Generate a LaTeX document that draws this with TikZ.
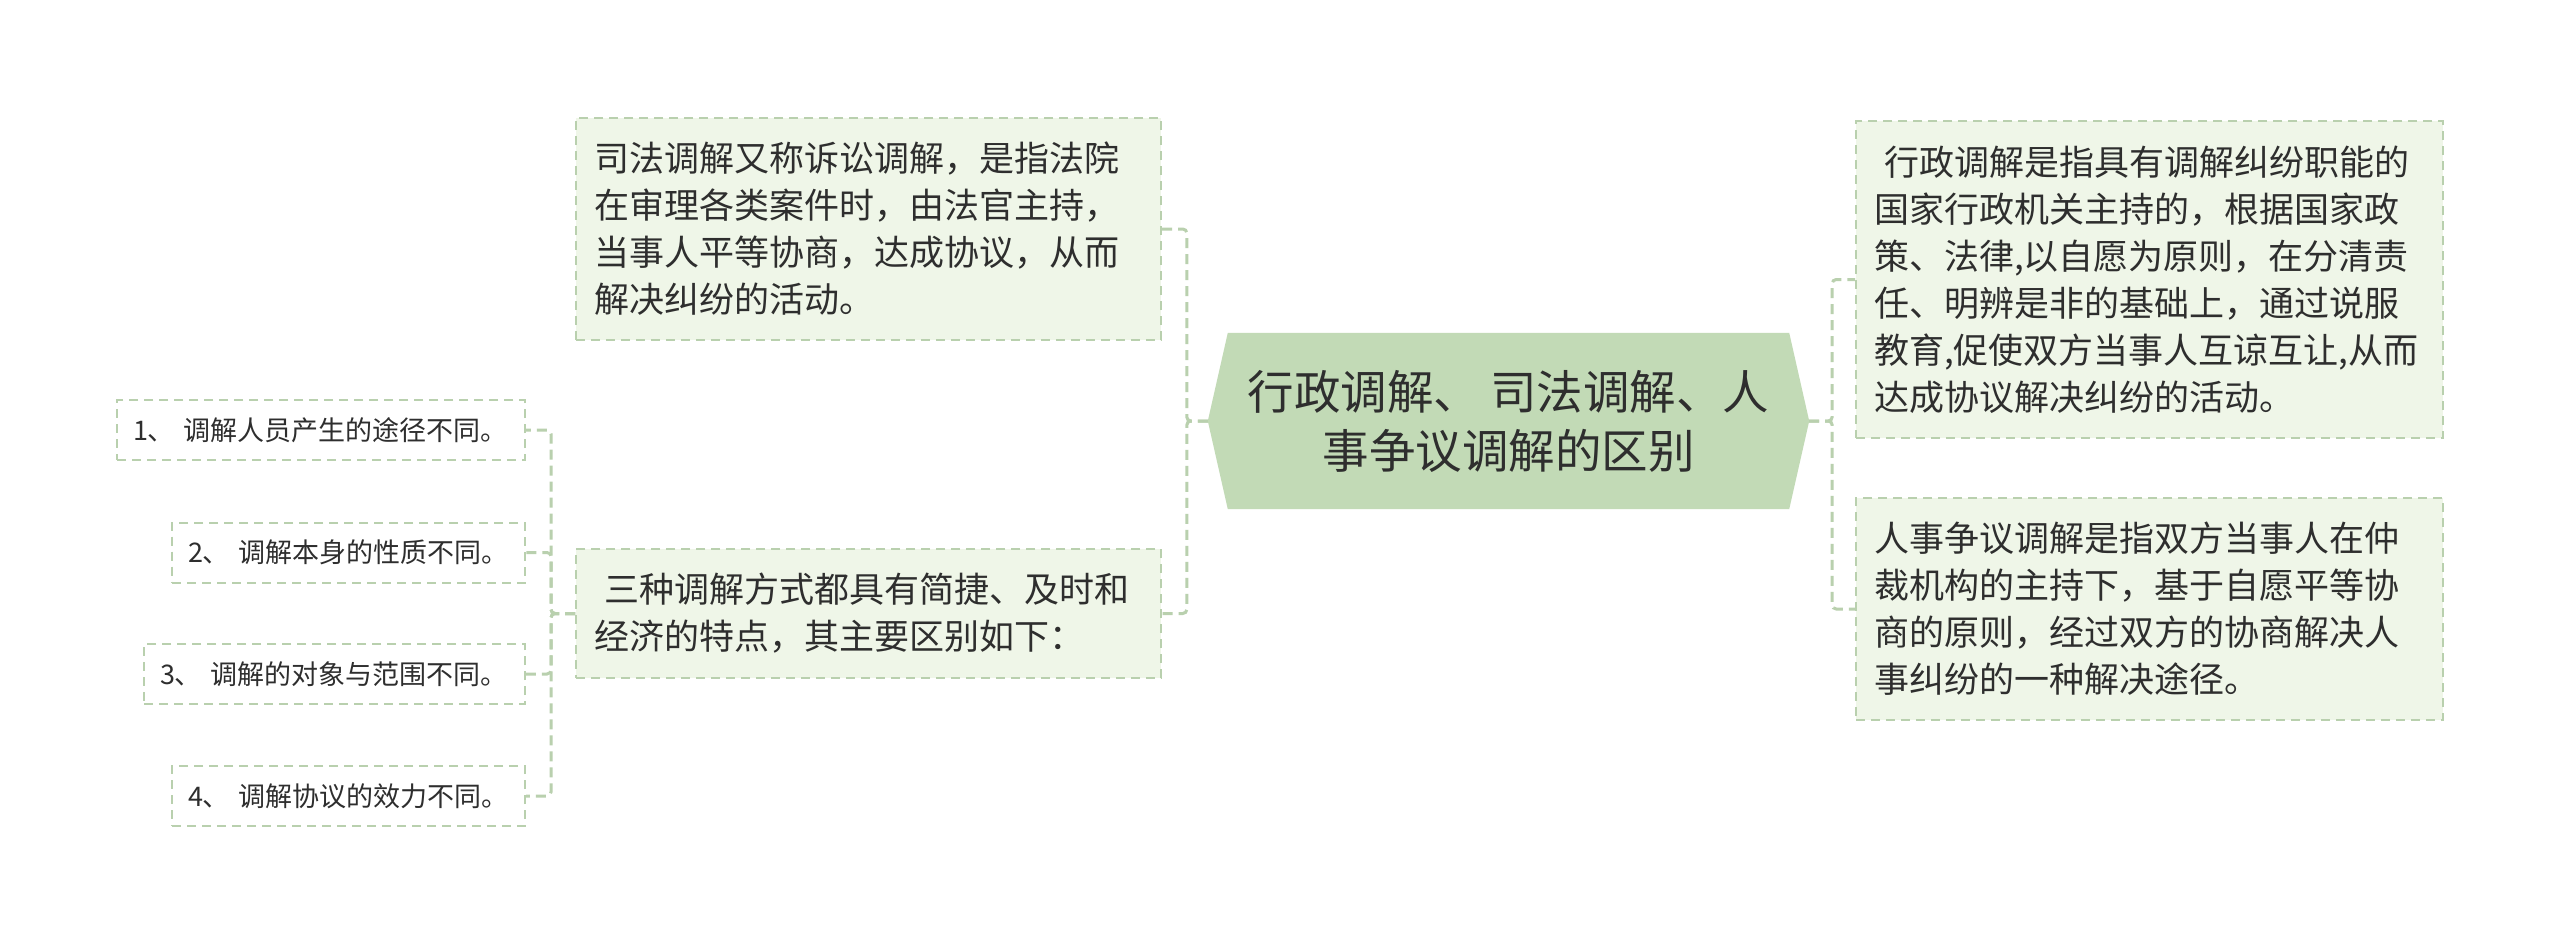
\documentclass[tikz,border=0pt]{standalone}
\usepackage{fontspec}
\setmainfont{Noto Sans CJK SC}
\usetikzlibrary{calc,backgrounds}
\definecolor{boxfill}{HTML}{EFF6E8}
\definecolor{boxline}{HTML}{B9D0AE}
\definecolor{centerfill}{HTML}{C2DAB6}
\definecolor{txt}{HTML}{2E2E2E}
\begin{document}
\begin{tikzpicture}[x=1pt,y=-1pt,
  box/.style={draw=boxline, fill=boxfill, line width=2pt, dash pattern=on 9pt off 6pt,
    inner xsep=18pt, inner ysep=0pt, align=left, text=txt,
    font=\fontsize{35}{47}\selectfont},
  smallbox/.style={draw=boxline, line width=2pt, dash pattern=on 9pt off 6pt,
    inner xsep=16pt, inner ysep=0pt, align=left, text=txt, minimum height=60pt,
    anchor=east, font=\fontsize{27}{32}\selectfont},
  conn/.style={draw=boxline, line width=3pt, dash pattern=on 10pt off 6pt, rounded corners=4pt}]
\useasboundingbox (0,0) rectangle (2560,945);

% central node
\node[text=txt, align=center, minimum width=601pt, minimum height=176pt, inner sep=0pt,
  font=\fontsize{46.5}{59}\selectfont] (c) at (1508.5,421)
  {行政调解、 司法调解、人\\事争议调解的区别};
\begin{scope}[on background layer]
\fill[white] (0,0) rectangle (2560,945);
\fill[centerfill] ($(c.north west)+(20,0)$) -- ($(c.north east)+(-20,0)$) -- (c.east)
  -- ($(c.south east)+(-20,0)$) -- ($(c.south west)+(20,0)$) -- (c.west) -- cycle;
\end{scope}

% left boxes
\node[box, text width=549pt, minimum height=222pt] (tl) at (868.5,229)
  {司法调解又称诉讼调解，是指法院\\在审理各类案件时，由法官主持，\\当事人平等协商，达成协议，从而\\解决纠纷的活动。};
\node[box, text width=549pt, minimum height=129pt] (ml) at (868.5,613.5)
  {\hspace*{0.3em}三种调解方式都具有简捷、及时和\\经济的特点，其主要区别如下：};

% small boxes
\node[smallbox, text width=376pt] (s1) at (526,430) {1、 调解人员产生的途径不同。};
\node[smallbox, text width=321pt] (s2) at (526,552.5) {2、 调解本身的性质不同。};
\node[smallbox, text width=349pt] (s3) at (526,674) {3、 调解的对象与范围不同。};
\node[smallbox, text width=321pt] (s4) at (526,796) {4、 调解协议的效力不同。};

% right boxes
\node[box, text width=551pt, minimum height=317pt] (tr) at (2149.5,279.5)
  {\hspace*{0.3em}行政调解是指具有调解纠纷职能的\\国家行政机关主持的，根据国家政\\策、法律,以自愿为原则，在分清责\\任、明辨是非的基础上，通过说服\\教育,促使双方当事人互谅互让,从而\\达成协议解决纠纷的活动。};
\node[box, text width=551pt, minimum height=222pt] (br) at (2149.5,609)
  {人事争议调解是指双方当事人在仲\\裁机构的主持下，基于自愿平等协\\商的原则，经过双方的协商解决人\\事纠纷的一种解决途径。};

% connectors
\draw[conn] (c.west) -- ++(-21,0) |- (tl.east);
\draw[conn] (c.west) -- ++(-21,0) |- (ml.east);
\draw[conn] (ml.west) -- ++(-24,0) |- (s1.east);
\draw[conn] (ml.west) -- ++(-24,0) |- (s2.east);
\draw[conn] (ml.west) -- ++(-24,0) |- (s3.east);
\draw[conn] (ml.west) -- ++(-24,0) |- (s4.east);
\draw[conn] (c.east) -- ++(23,0) |- (tr.west);
\draw[conn] (c.east) -- ++(23,0) |- (br.west);
\end{tikzpicture}
\end{document}
